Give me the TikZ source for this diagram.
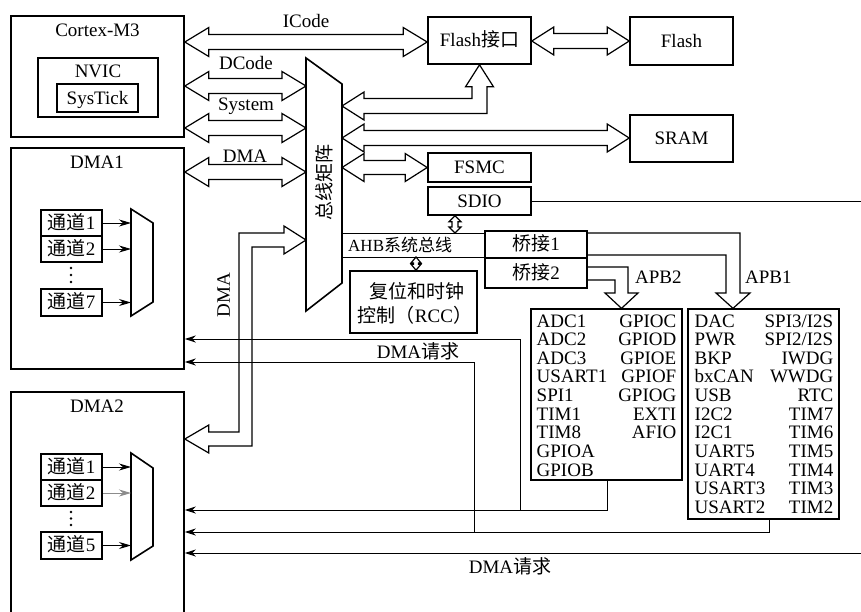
\documentclass[tikz,border=0pt]{standalone}
\usepackage{fontspec}
\setmainfont{Liberation Serif}
\newfontfamily\cjk{Noto Sans CJK SC}
\usetikzlibrary{arrows.meta,calc}
\newcommand\zh[1]{{\cjk #1}}
\newcommand\sls{/}
% horizontal hollow double arrow: left tip, right tip, head length, head half-width, shaft half-width
\newcommand\dblh[5]{%
  \draw[hollow] let \p1=(#1), \p2=(#2) in
    (\x1,\y1) -- (\x1+#3,\y1+#4) -- (\x1+#3,\y1+#5) -- (\x2-#3,\y1+#5)
    -- (\x2-#3,\y1+#4) -- (\x2,\y1) -- (\x2-#3,\y1-#4) -- (\x2-#3,\y1-#5)
    -- (\x1+#3,\y1-#5) -- (\x1+#3,\y1-#4) -- cycle;}
% vertical hollow double arrow: top tip, bottom tip, head length, head half-width, shaft half-width
\newcommand\dblv[5]{%
  \draw[hollow] let \p1=(#1), \p2=(#2) in
    (\x1,\y1) -- (\x1+#4,\y1-#3) -- (\x1+#5,\y1-#3) -- (\x1+#5,\y2+#3)
    -- (\x1+#4,\y2+#3) -- (\x1,\y2) -- (\x1-#4,\y2+#3) -- (\x1-#5,\y2+#3)
    -- (\x1-#5,\y1-#3) -- (\x1-#4,\y1-#3) -- cycle;}
\begin{document}
\begin{tikzpicture}[x=1pt,y=-1pt,
  every node/.style={font=\fontsize{19}{19}\selectfont, inner sep=0pt},
  box/.style={draw, line width=1.6pt, inner sep=0pt, text height=12.5pt, text depth=0pt},
  pbox/.style={draw, line width=1.3pt},
  thickpoly/.style={line width=1.6pt, line join=miter},
  hollow/.style={line width=1.2pt, line join=miter},
  wire/.style={line width=1pt},
  req/.style={wire, -{Stealth[length=11pt,width=7pt]}},
  chan/.style={wire, -{Stealth[length=12pt,width=7pt]}},
  lbl/.style={anchor=base},
]
\fill[white] (0,0) rectangle (861,611);
\useasboundingbox (0,0) rectangle (861,611);

% ---------- Cortex-M3 ----------
\node[box, minimum width=173pt, minimum height=121pt] (cortex) at (97.5,76.5) {};
\node[lbl] (cortexlbl) at (97.5,36) {Cortex-M3};
\node[box, minimum width=120pt, minimum height=59pt] (nvic) at (98,87.5) {};
\node[lbl] (nviclbl) at (98,77) {NVIC};
\node[box, minimum width=81pt, minimum height=28pt] (systick) at (97.5,98) {SysTick};

% ---------- DMA1 ----------
\node[box, minimum width=173pt, minimum height=221pt] (dma1) at (97.5,258.5) {};
\node[lbl] (dma1lbl) at (97,168) {DMA1};
\node[box, minimum width=61pt, minimum height=26pt] (ch11) at (71.5,223) {\zh{通道}1};
\node[box, minimum width=61pt, minimum height=26pt] (ch12) at (71.5,249) {\zh{通道}2};
\node[box, minimum width=61pt, minimum height=27pt] (ch17) at (71.5,302.5) {\zh{通道}7};
\fill (71,268) circle (1.3pt) (71,275) circle (1.3pt) (71,282) circle (1.3pt);
\coordinate (m1a) at (131,209); \coordinate (m1b) at (153,223);
\coordinate (m1c) at (153,302); \coordinate (m1d) at (131,316);
\draw[thickpoly] (m1a) -- (m1b) -- (m1c) -- (m1d) -- cycle;
\draw[chan] (ch11.east) -- (ch11.east -| m1a);
\draw[chan] (ch12.east) -- (ch12.east -| m1a);
\draw[chan] (ch17.east) -- (ch17.east -| m1a);

% ---------- DMA2 ----------
\node[box, minimum width=173pt, minimum height=240pt] (dma2) at (97.5,512) {};
\node[lbl] (dma2lbl) at (97,412) {DMA2};
\node[box, minimum width=61pt, minimum height=26pt] (ch21) at (71.5,467) {\zh{通道}1};
\node[box, minimum width=61pt, minimum height=26pt] (ch22) at (71.5,493) {\zh{通道}2};
\node[box, minimum width=61pt, minimum height=27pt] (ch25) at (71.5,545.5) {\zh{通道}5};
\fill (71,512) circle (1.3pt) (71,518.5) circle (1.3pt) (71,525) circle (1.3pt);
\coordinate (m2a) at (131,453); \coordinate (m2b) at (153,468);
\coordinate (m2c) at (153,546); \coordinate (m2d) at (131,560);
\draw[thickpoly] (m2a) -- (m2b) -- (m2c) -- (m2d) -- cycle;
\draw[chan] (ch21.east) -- (ch21.east -| m2a);
\draw[chan, draw=black!45] (ch22.east) -- (ch22.east -| m2a);
\draw[chan] (ch25.east) -- (ch25.east -| m2a);

% ---------- bus matrix ----------
\coordinate (mtl) at (306,58); \coordinate (mtr) at (342,84);
\coordinate (mbr) at (342,283); \coordinate (mbl) at (306,311);
\draw[thickpoly] (mtl) -- (mtr) -- (mbr) -- (mbl) -- cycle;
\node[rotate=90] (mtxlbl) at (324,182) {\zh{总线矩阵}};

% ---------- memories / peripherals on AHB ----------
\node[box, minimum width=103pt, minimum height=47pt] (flashif) at (479.5,40.5) {Flash\zh{接口}};
\node[box, minimum width=103pt, minimum height=48pt] (flash) at (681.5,41) {Flash};
\node[box, minimum width=103pt, minimum height=47pt] (sram) at (681.5,138.5) {SRAM};
\node[box, minimum width=103pt, minimum height=29pt] (fsmc) at (479.5,167.5) {FSMC};
\node[box, minimum width=103pt, minimum height=28pt] (sdio) at (479.5,201) {SDIO};
\node[box, minimum width=102pt, minimum height=27pt] (br1) at (536,244.5) {\zh{桥接}1};
\node[box, minimum width=102pt, minimum height=30pt] (br2) at (536,273) {\zh{桥接}2};
\node[box, minimum width=127pt, minimum height=62pt] (rcc) at (413.5,302) {};
\node[lbl] (rcc1) at (417,298) {\zh{复位和时钟}};
\node[lbl] (rcc2) at (415,322) {\zh{控制（}RCC\zh{）}};

% ---------- APB boxes ----------
\node[pbox, minimum width=151pt, minimum height=171pt] (apb2) at (606.5,394.5) {};
\node[pbox, minimum width=151pt, minimum height=210pt] (apb1) at (763.5,414) {};
\foreach \l/\r [count=\k from 0] in {ADC1/GPIOC, ADC2/GPIOD, ADC3/GPIOE, USART1/GPIOF, SPI1/GPIOG, TIM1/EXTI, TIM8/AFIO, GPIOA/{}, GPIOB/{}} {
  \node[anchor=base west] (pa\k) at (536.5,{327+18.65*\k}) {\l};
  \node[anchor=base east] (pb\k) at (676.5,{327+18.65*\k}) {\r};
}
\foreach \l/\r [count=\k from 0] in {DAC/SPI3\sls I2S, PWR/SPI2\sls I2S, BKP/IWDG, bxCAN/WWDG, USB/RTC, I2C2/TIM7, I2C1/TIM6, UART5/TIM5, UART4/TIM4, USART3/TIM3, USART2/TIM2} {
  \node[anchor=base west] (qa\k) at (694.5,{327+18.65*\k}) {\l};
  \node[anchor=base east] (qb\k) at (833.5,{327+18.65*\k}) {\r};
}

% ---------- hollow bus arrows ----------
\dblh{cortex.east|-0,42}{flashif.west|-0,42}{24pt}{14.5pt}{7.5pt}
\dblh{flashif.east|-0,41}{flash.west|-0,41}{22pt}{14pt}{7.5pt}
\dblh{cortex.east|-0,86}{mtl|-0,86}{24pt}{14.5pt}{7.5pt}
\dblh{cortex.east|-0,128}{mtl|-0,128}{24pt}{14.5pt}{7.5pt}
\dblh{dma1.east|-0,172}{mtl|-0,172}{24pt}{14.5pt}{7.5pt}
\dblh{mtr|-0,138}{sram.west|-0,138}{22pt}{14pt}{7.5pt}
\dblh{mtr|-0,167.5}{fsmc.west}{22pt}{14pt}{7pt}
% matrix <-> Flash interface (L-shaped)
\draw[hollow] let \p1=(mtr|-0,106), \p2=(flashif.south) in
  (\x1,\y1) -- (\x1+22pt,\y1+14pt) -- (\x1+22pt,\y1+7.5pt) -- (\x2-7.5pt,\y1+7.5pt)
  -- (\x2-7.5pt,\y2-22pt) -- (\x2-14pt,\y2-22pt) -- (\x2,\y2) -- (\x2+14pt,\y2-22pt)
  -- (\x2+7.5pt,\y2-22pt) -- (\x2+7.5pt,\y1-7.5pt) -- (\x1+22pt,\y1-7.5pt)
  -- (\x1+22pt,\y1-14pt) -- cycle;
% matrix <-> DMA2 (L-shaped)
\draw[hollow] let \p1=(mtl|-0,240), \p2=(dma2.east|-0,439) in
  (\x1,\y1) -- (\x1-22pt,\y1+14pt) -- (\x1-22pt,\y1+7pt) -- (239pt,\y1+7pt)
  -- (239pt,\y2+7pt) -- (\x2+24pt,\y2+7pt) -- (\x2+24pt,\y2+14pt) -- (\x2,\y2)
  -- (\x2+24pt,\y2-14pt) -- (\x2+24pt,\y2-7pt) -- (252pt,\y2-7pt) -- (252pt,\y1-7pt)
  -- (\x1-22pt,\y1-7pt) -- (\x1-22pt,\y1-14pt) -- cycle;

% ---------- AHB bus ----------
\coordinate (ahbT) at (342,233); \coordinate (ahbB) at (342,257);
\draw[wire] (ahbT) -- (ahbT -| br1.west);
\draw[wire] (ahbB) -- (ahbB -| br1.west);
\dblv{sdio.south-|455,0}{ahbT-|455,0}{6pt}{6pt}{3pt}
\dblv{ahbB-|416,0}{rcc.north-|416,0}{6pt}{5pt}{2.5pt}

% ---------- APB arrows ----------
\draw[hollow] (br1.east|-0,233) -- (740,233) -- (740,293) -- (750,293)
  -- (apb1.north-|733,0) -- (716,293) -- (726,293) -- (726,255) -- (br1.east|-0,255);
\draw[hollow] (br2.east|-0,267) -- (628,267) -- (628,293) -- (638,293)
  -- (apb2.north-|621.5,0) -- (605,293) -- (615,293) -- (615,280) -- (br2.east|-0,280);

% ---------- DMA request lines ----------
\draw[req] (apb2.south-|607,0) -- (607,510) -- (dma2.east|-0,510);
\draw[req] (520,510) -- (520,339) -- (dma1.east|-0,339);
\draw[req] (apb1.south-|769,0) -- (769,532) -- (dma2.east|-0,532);
\draw[req] (474,532) -- (474,362) -- (dma1.east|-0,362);
\draw[req] (sdio.east) -- (880,201) -- (880,553) -- (dma2.east|-0,553);

% ---------- labels ----------
\node[lbl] (icodelbl) at (306,27) {ICode};
\node[lbl] (dcodelbl) at (246,69) {DCode};
\node[lbl] (syslbl) at (246,110) {System};
\node[lbl] (dmalbl) at (245,162) {DMA};
\node[rotate=90] (dmavlbl) at (223.5,295) {DMA};
\node[anchor=base west, font=\fontsize{17}{17}\selectfont] (ahblbl) at (348,251) {AHB\zh{系统总线}};
\node[anchor=base west] (apb2lbl) at (635,283) {APB2};
\node[anchor=base west] (apb1lbl) at (745,283) {APB1};
\node[lbl] (req1lbl) at (418,358) {DMA\zh{请求}};
\node[lbl] (req2lbl) at (510,573) {DMA\zh{请求}};
\end{tikzpicture}
\end{document}
